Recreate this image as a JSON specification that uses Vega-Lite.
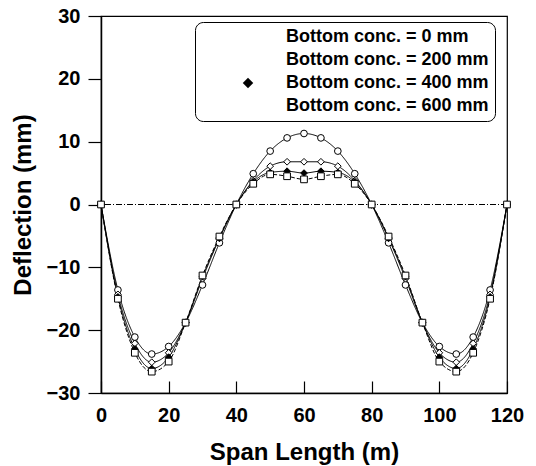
{
  "$schema": "https://vega.github.io/schema/vega-lite/v6.json",
  "width": 406,
  "height": 377,
  "autosize": {"type": "none"},
  "padding": {"left": 101, "top": 16, "right": 29, "bottom": 73},
  "background": "white",
  "config": {
    "view": {"stroke": "#000", "strokeWidth": 1.2},
    "font": "Liberation Sans",
    "axis": {"domainColor": "#000", "domainWidth": 1.5, "tickColor": "#000", "tickWidth": 1.2, "labelColor": "#000", "titleColor": "#000", "labelFont": "Liberation Sans", "titleFont": "Liberation Sans", "labelFontWeight": "bold", "titleFontWeight": "bold", "grid": false},
    "legend": {"labelLimit": 400}
  },
  "datasets": {
    "defl": [
      {"x": 0, "y": 0, "s": "Bottom conc. = 0 mm"},
      {"x": 5, "y": -13.6, "s": "Bottom conc. = 0 mm"},
      {"x": 10, "y": -21.1, "s": "Bottom conc. = 0 mm"},
      {"x": 15, "y": -23.8, "s": "Bottom conc. = 0 mm"},
      {"x": 20, "y": -22.6, "s": "Bottom conc. = 0 mm"},
      {"x": 25, "y": -18.8, "s": "Bottom conc. = 0 mm"},
      {"x": 30, "y": -12.8, "s": "Bottom conc. = 0 mm"},
      {"x": 35, "y": -6.1, "s": "Bottom conc. = 0 mm"},
      {"x": 40, "y": 0, "s": "Bottom conc. = 0 mm"},
      {"x": 45, "y": 4.9, "s": "Bottom conc. = 0 mm"},
      {"x": 50, "y": 8.5, "s": "Bottom conc. = 0 mm"},
      {"x": 55, "y": 10.6, "s": "Bottom conc. = 0 mm"},
      {"x": 60, "y": 11.3, "s": "Bottom conc. = 0 mm"},
      {"x": 65, "y": 10.6, "s": "Bottom conc. = 0 mm"},
      {"x": 70, "y": 8.5, "s": "Bottom conc. = 0 mm"},
      {"x": 75, "y": 4.9, "s": "Bottom conc. = 0 mm"},
      {"x": 80, "y": 0, "s": "Bottom conc. = 0 mm"},
      {"x": 85, "y": -6.1, "s": "Bottom conc. = 0 mm"},
      {"x": 90, "y": -12.8, "s": "Bottom conc. = 0 mm"},
      {"x": 95, "y": -18.8, "s": "Bottom conc. = 0 mm"},
      {"x": 100, "y": -22.6, "s": "Bottom conc. = 0 mm"},
      {"x": 105, "y": -23.8, "s": "Bottom conc. = 0 mm"},
      {"x": 110, "y": -21.1, "s": "Bottom conc. = 0 mm"},
      {"x": 115, "y": -13.6, "s": "Bottom conc. = 0 mm"},
      {"x": 120, "y": 0, "s": "Bottom conc. = 0 mm"},
      {"x": 0, "y": 0, "s": "Bottom conc. = 200 mm"},
      {"x": 5, "y": -14.3, "s": "Bottom conc. = 200 mm"},
      {"x": 10, "y": -22.1, "s": "Bottom conc. = 200 mm"},
      {"x": 15, "y": -25.1, "s": "Bottom conc. = 200 mm"},
      {"x": 20, "y": -23.6, "s": "Bottom conc. = 200 mm"},
      {"x": 25, "y": -18.8, "s": "Bottom conc. = 200 mm"},
      {"x": 30, "y": -11.8, "s": "Bottom conc. = 200 mm"},
      {"x": 35, "y": -5.4, "s": "Bottom conc. = 200 mm"},
      {"x": 40, "y": 0, "s": "Bottom conc. = 200 mm"},
      {"x": 45, "y": 3.8, "s": "Bottom conc. = 200 mm"},
      {"x": 50, "y": 6.1, "s": "Bottom conc. = 200 mm"},
      {"x": 55, "y": 6.8, "s": "Bottom conc. = 200 mm"},
      {"x": 60, "y": 6.8, "s": "Bottom conc. = 200 mm"},
      {"x": 65, "y": 6.8, "s": "Bottom conc. = 200 mm"},
      {"x": 70, "y": 6.1, "s": "Bottom conc. = 200 mm"},
      {"x": 75, "y": 3.8, "s": "Bottom conc. = 200 mm"},
      {"x": 80, "y": 0, "s": "Bottom conc. = 200 mm"},
      {"x": 85, "y": -5.4, "s": "Bottom conc. = 200 mm"},
      {"x": 90, "y": -11.8, "s": "Bottom conc. = 200 mm"},
      {"x": 95, "y": -18.8, "s": "Bottom conc. = 200 mm"},
      {"x": 100, "y": -23.6, "s": "Bottom conc. = 200 mm"},
      {"x": 105, "y": -25.1, "s": "Bottom conc. = 200 mm"},
      {"x": 110, "y": -22.1, "s": "Bottom conc. = 200 mm"},
      {"x": 115, "y": -14.3, "s": "Bottom conc. = 200 mm"},
      {"x": 120, "y": 0, "s": "Bottom conc. = 200 mm"},
      {"x": 0, "y": 0, "s": "Bottom conc. = 400 mm"},
      {"x": 5, "y": -14.7, "s": "Bottom conc. = 400 mm"},
      {"x": 10, "y": -23.0, "s": "Bottom conc. = 400 mm"},
      {"x": 15, "y": -26.1, "s": "Bottom conc. = 400 mm"},
      {"x": 20, "y": -24.3, "s": "Bottom conc. = 400 mm"},
      {"x": 25, "y": -18.8, "s": "Bottom conc. = 400 mm"},
      {"x": 30, "y": -11.5, "s": "Bottom conc. = 400 mm"},
      {"x": 35, "y": -5.3, "s": "Bottom conc. = 400 mm"},
      {"x": 40, "y": 0, "s": "Bottom conc. = 400 mm"},
      {"x": 45, "y": 3.6, "s": "Bottom conc. = 400 mm"},
      {"x": 50, "y": 5.1, "s": "Bottom conc. = 400 mm"},
      {"x": 55, "y": 5.3, "s": "Bottom conc. = 400 mm"},
      {"x": 60, "y": 5.0, "s": "Bottom conc. = 400 mm"},
      {"x": 65, "y": 5.3, "s": "Bottom conc. = 400 mm"},
      {"x": 70, "y": 5.1, "s": "Bottom conc. = 400 mm"},
      {"x": 75, "y": 3.6, "s": "Bottom conc. = 400 mm"},
      {"x": 80, "y": 0, "s": "Bottom conc. = 400 mm"},
      {"x": 85, "y": -5.3, "s": "Bottom conc. = 400 mm"},
      {"x": 90, "y": -11.5, "s": "Bottom conc. = 400 mm"},
      {"x": 95, "y": -18.8, "s": "Bottom conc. = 400 mm"},
      {"x": 100, "y": -24.3, "s": "Bottom conc. = 400 mm"},
      {"x": 105, "y": -26.1, "s": "Bottom conc. = 400 mm"},
      {"x": 110, "y": -23.0, "s": "Bottom conc. = 400 mm"},
      {"x": 115, "y": -14.7, "s": "Bottom conc. = 400 mm"},
      {"x": 120, "y": 0, "s": "Bottom conc. = 400 mm"},
      {"x": 0, "y": 0, "s": "Bottom conc. = 600 mm"},
      {"x": 5, "y": -15.0, "s": "Bottom conc. = 600 mm"},
      {"x": 10, "y": -23.6, "s": "Bottom conc. = 600 mm"},
      {"x": 15, "y": -26.6, "s": "Bottom conc. = 600 mm"},
      {"x": 20, "y": -25.0, "s": "Bottom conc. = 600 mm"},
      {"x": 25, "y": -18.8, "s": "Bottom conc. = 600 mm"},
      {"x": 30, "y": -11.3, "s": "Bottom conc. = 600 mm"},
      {"x": 35, "y": -5.1, "s": "Bottom conc. = 600 mm"},
      {"x": 40, "y": 0, "s": "Bottom conc. = 600 mm"},
      {"x": 45, "y": 3.3, "s": "Bottom conc. = 600 mm"},
      {"x": 50, "y": 4.8, "s": "Bottom conc. = 600 mm"},
      {"x": 55, "y": 4.5, "s": "Bottom conc. = 600 mm"},
      {"x": 60, "y": 4.0, "s": "Bottom conc. = 600 mm"},
      {"x": 65, "y": 4.5, "s": "Bottom conc. = 600 mm"},
      {"x": 70, "y": 4.8, "s": "Bottom conc. = 600 mm"},
      {"x": 75, "y": 3.3, "s": "Bottom conc. = 600 mm"},
      {"x": 80, "y": 0, "s": "Bottom conc. = 600 mm"},
      {"x": 85, "y": -5.1, "s": "Bottom conc. = 600 mm"},
      {"x": 90, "y": -11.3, "s": "Bottom conc. = 600 mm"},
      {"x": 95, "y": -18.8, "s": "Bottom conc. = 600 mm"},
      {"x": 100, "y": -25.0, "s": "Bottom conc. = 600 mm"},
      {"x": 105, "y": -26.6, "s": "Bottom conc. = 600 mm"},
      {"x": 110, "y": -23.6, "s": "Bottom conc. = 600 mm"},
      {"x": 115, "y": -15.0, "s": "Bottom conc. = 600 mm"},
      {"x": 120, "y": 0, "s": "Bottom conc. = 600 mm"}
    ],
    "zero": [{"y": 0}]
  },
  "layer": [
    {
      "data": {"name": "zero"},
      "mark": {"type": "rule", "color": "#000", "strokeWidth": 1, "strokeDash": [6, 2, 1, 2]},
      "encoding": {
        "y": {"field": "y", "type": "quantitative", "scale": {"domain": [-30, 30], "nice": false}}
      }
    },
    {
      "data": {"name": "defl"},
      "mark": {"type": "line", "interpolate": "monotone", "color": "#000"},
      "encoding": {
        "x": {"field": "x", "type": "quantitative"},
        "y": {"field": "y", "type": "quantitative"},
        "detail": {"field": "s"},
        "strokeDash": {"field": "s", "type": "nominal",
          "scale": {"domain": ["Bottom conc. = 0 mm", "Bottom conc. = 200 mm", "Bottom conc. = 400 mm", "Bottom conc. = 600 mm"], "range": [[1, 0], [1, 0], [1, 0], [4, 2]]},
          "legend": {"title": null, "orient": "none", "legendX": 94, "legendY": 6,
            "strokeColor": "#000", "cornerRadius": 8, "padding": 6, "fillColor": "white",
            "labelFontSize": 18, "labelFontWeight": "bold", "labelFont": "Liberation Sans", "labelColor": "#000", "labelLimit": 400,
            "symbolSize": 110, "symbolOffset": 38, "labelOffset": 29, "rowPadding": 5,
            "symbolStrokeColor": "#000", "symbolStrokeWidth": 1}},
        "strokeWidth": {"field": "s", "type": "nominal",
          "scale": {"domain": ["Bottom conc. = 0 mm", "Bottom conc. = 200 mm", "Bottom conc. = 400 mm", "Bottom conc. = 600 mm"], "range": [1, 1, 1.6, 1]},
          "legend": {"title": null, "orient": "none", "legendX": 94, "legendY": 6,
            "strokeColor": "#000", "cornerRadius": 8, "padding": 6, "fillColor": "white",
            "labelFontSize": 18, "labelFontWeight": "bold", "labelFont": "Liberation Sans", "labelColor": "#000", "labelLimit": 400,
            "symbolSize": 110, "symbolOffset": 38, "labelOffset": 29, "rowPadding": 5,
            "symbolStrokeColor": "#000", "symbolStrokeWidth": 1}}
      }
    },
    {
      "data": {"name": "defl"},
      "mark": {"type": "point", "filled": true, "stroke": "#000", "strokeWidth": 1, "size": 45, "opacity": 1},
      "encoding": {
        "x": {"field": "x", "type": "quantitative",
          "scale": {"domain": [0, 120], "nice": false},
          "axis": {"title": "Span Length (m)", "values": [0, 10, 20, 30, 40, 50, 60, 70, 80, 90, 100, 110, 120],
            "labelExpr": "datum.value % 20 === 0 ? datum.label : ''",
            "tickSize": -12, "labelPadding": 24, "labelFontSize": 20, "titleFontSize": 24, "titlePadding": 15,
            "labelFlush": false,
            "encode": {"ticks": {"y2": {"value": {"expr": "datum.value % 20 === 0 ? -12 : -6"}}}}}},
        "y": {"field": "y", "type": "quantitative",
          "scale": {"domain": [-30, 30], "nice": false},
          "axis": {"title": "Deflection (mm)", "values": [-30, -25, -20, -15, -10, -5, 0, 5, 10, 15, 20, 25, 30],
            "labelExpr": "datum.value % 10 === 0 ? datum.label : ''",
            "tickSize": 13, "labelPadding": 8, "labelFontSize": 20, "titleFontSize": 24, "titlePadding": 11,
            "labelFlush": false,
            "encode": {"ticks": {"x2": {"value": {"expr": "datum.value % 10 === 0 ? -13 : -5"}}}}}},
        "shape": {"field": "s", "type": "nominal",
          "scale": {"domain": ["Bottom conc. = 0 mm", "Bottom conc. = 200 mm", "Bottom conc. = 400 mm", "Bottom conc. = 600 mm"], "range": ["circle", "diamond", "diamond", "square"]},
          "legend": {"title": null, "orient": "none", "legendX": 94, "legendY": 6,
            "strokeColor": "#000", "cornerRadius": 8, "padding": 6, "fillColor": "white",
            "labelFontSize": 18, "labelFontWeight": "bold", "labelFont": "Liberation Sans", "labelColor": "#000", "labelLimit": 400,
            "symbolSize": 110, "symbolOffset": 38, "labelOffset": 29, "rowPadding": 5,
            "symbolStrokeColor": "#000", "symbolStrokeWidth": 1}},
        "fill": {"field": "s", "type": "nominal",
          "scale": {"domain": ["Bottom conc. = 0 mm", "Bottom conc. = 200 mm", "Bottom conc. = 400 mm", "Bottom conc. = 600 mm"], "range": ["#fff", "#fff", "#000", "#fff"]},
          "legend": {"title": null, "orient": "none", "legendX": 94, "legendY": 6,
            "strokeColor": "#000", "cornerRadius": 8, "padding": 6, "fillColor": "white",
            "labelFontSize": 18, "labelFontWeight": "bold", "labelFont": "Liberation Sans", "labelColor": "#000", "labelLimit": 400,
            "symbolSize": 110, "symbolOffset": 38, "labelOffset": 29, "rowPadding": 5,
            "symbolStrokeColor": "#000", "symbolStrokeWidth": 1}}
      }
    }
  ]
}
